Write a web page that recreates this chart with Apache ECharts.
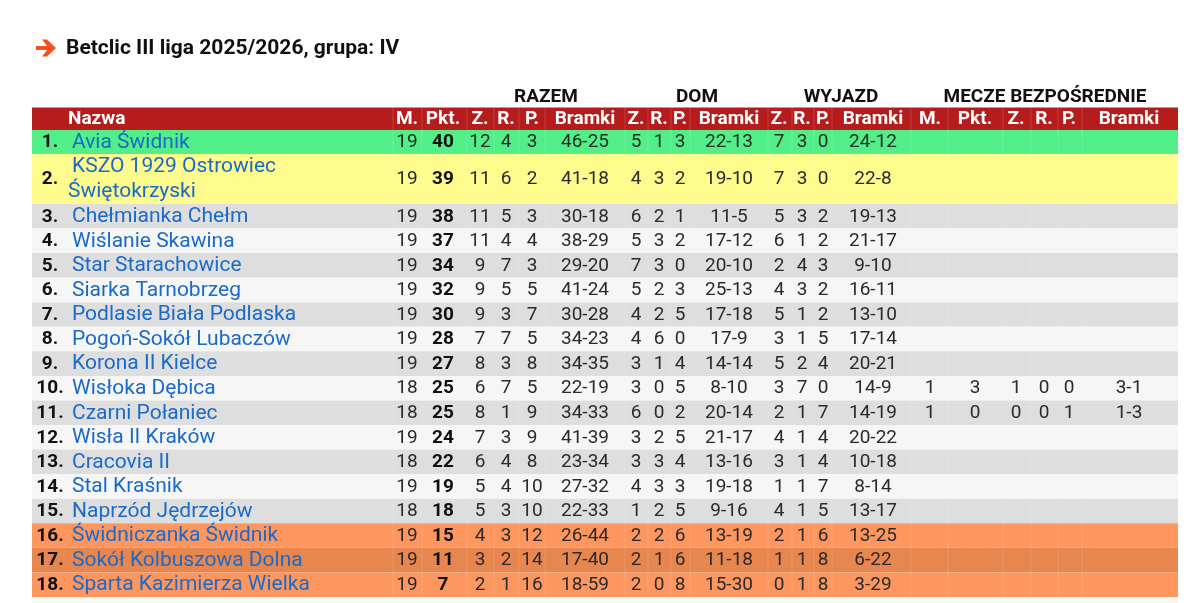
<!DOCTYPE html>
<html>
<head>
<meta charset="utf-8">
<style>
html, body { margin: 0; padding: 0; background: #fff; }
#chart { width: 1200px; height: 603px; }
</style>
<script src="https://cdn.jsdelivr.net/npm/echarts@6/dist/echarts.min.js"></script>
</head>
<body>
<div id="chart"></div>
<script>
const titleText = 'Betclic III liga 2025/2026, grupa: IV';
const groupLabels = ['RAZEM', 'DOM', 'WYJAZD', 'MECZE BEZPOŚREDNIE'];
const headerLabels = ['M.', 'Pkt.', 'Z.', 'R.', 'P.', 'Bramki', 'Z.', 'R.', 'P.', 'Bramki', 'Z.', 'R.', 'P.', 'Bramki', 'M.', 'Pkt.', 'Z.', 'R.', 'P.', 'Bramki'];

const teams = [
    'Avia Świdnik', 'KSZO 1929 Ostrowiec\nŚwiętokrzyski', 'Chełmianka Chełm', 'Wiślanie Skawina',
    'Star Starachowice', 'Siarka Tarnobrzeg', 'Podlasie Biała Podlaska', 'Pogoń-Sokół Lubaczów',
    'Korona II Kielce', 'Wisłoka Dębica', 'Czarni Połaniec', 'Wisła II Kraków',
    'Cracovia II', 'Stal Kraśnik', 'Naprzód Jędrzejów', 'Świdniczanka Świdnik',
    'Sokół Kolbuszowa Dolna', 'Sparta Kazimierza Wielka',
];
const played = [19, 19, 19, 19, 19, 19, 19, 19, 19, 18, 18, 19, 18, 19, 18, 19, 19, 19];
const points = [40, 39, 38, 37, 34, 32, 30, 28, 27, 25, 25, 24, 22, 19, 18, 15, 11, 7];
const overall = [
    [12, 4, 3, '46-25'], [11, 6, 2, '41-18'], [11, 5, 3, '30-18'], [11, 4, 4, '38-29'],
    [9, 7, 3, '29-20'], [9, 5, 5, '41-24'], [9, 3, 7, '30-28'], [7, 7, 5, '34-23'],
    [8, 3, 8, '34-35'], [6, 7, 5, '22-19'], [8, 1, 9, '34-33'], [7, 3, 9, '41-39'],
    [6, 4, 8, '23-34'], [5, 4, 10, '27-32'], [5, 3, 10, '22-33'], [4, 3, 12, '26-44'],
    [3, 2, 14, '17-40'], [2, 1, 16, '18-59'],
];
const home = [
    [5, 1, 3, '22-13'], [4, 3, 2, '19-10'], [6, 2, 1, '11-5'], [5, 3, 2, '17-12'],
    [7, 3, 0, '20-10'], [5, 2, 3, '25-13'], [4, 2, 5, '17-18'], [4, 6, 0, '17-9'],
    [3, 1, 4, '14-14'], [3, 0, 5, '8-10'], [6, 0, 2, '20-14'], [3, 2, 5, '21-17'],
    [3, 3, 4, '13-16'], [4, 3, 3, '19-18'], [1, 2, 5, '9-16'], [2, 2, 6, '13-19'],
    [2, 1, 6, '11-18'], [2, 0, 8, '15-30'],
];
const away = [
    [7, 3, 0, '24-12'], [7, 3, 0, '22-8'], [5, 3, 2, '19-13'], [6, 1, 2, '21-17'],
    [2, 4, 3, '9-10'], [4, 3, 2, '16-11'], [5, 1, 2, '13-10'], [3, 1, 5, '17-14'],
    [5, 2, 4, '20-21'], [3, 7, 0, '14-9'], [2, 1, 7, '14-19'], [4, 1, 4, '20-22'],
    [3, 1, 4, '10-18'], [1, 1, 7, '8-14'], [4, 1, 5, '13-17'], [2, 1, 6, '13-25'],
    [1, 1, 8, '6-22'], [0, 1, 8, '3-29'],
];
// only the two teams level on points have head to head figures
const direct = { 9: [1, 3, 1, 0, 0, '3-1'], 10: [1, 0, 0, 0, 1, '1-3'] };

// layout, in page pixels
const tableLeft = 32;
const tableRight = 1178;
const headerTop = 107.5;
const columnCenters = [407, 443, 480, 506, 532, 585, 636, 659, 680, 729, 779, 802, 823, 873, 930, 975, 1016, 1044, 1069, 1129];
const groupCenters = [546, 697, 841, 1045];
const separators = [393, 422, 467, 494, 519, 545, 625, 648, 671, 690, 768, 792, 814, 832, 911, 948, 1003, 1031, 1058, 1082];
const rowTops = [130, 154];
for (let i = 0; i < 17; i++) {
    rowTops.push(204 + i * 24.56);
}

const rowColors = teams.map((t, i) => {
    if (i === 0) return '#52ee88';
    if (i === 1) return '#fdfc8d';
    if (i === 16) return '#e8864f';
    if (i >= 15) return '#fe9660';
    return i % 2 === 0 ? '#dedede' : '#f6f6f6';
});

const bandData = [[headerTop, rowTops[0], '#b71c1c']];
rowColors.forEach((c, i) => bandData.push([rowTops[i], rowTops[i + 1], c]));
bandData.push([600.5, 603, '#fff4e2']);

const cellData = [];
function addCell(x, y, text, kind) {
    cellData.push([x, y, text, kind]);
}
const headerY = 119.5;
addCell(68, headerY, 'Nazwa', 'headLeft');
headerLabels.forEach((h, c) => addCell(columnCenters[c], headerY, h, 'head'));
groupLabels.forEach((g, c) => addCell(groupCenters[c], 97, g, 'group'));
teams.forEach((team, i) => {
    const y = (rowTops[i] + rowTops[i + 1]) / 2 + 0.5;
    addCell(50, y, (i + 1) + '.', 'rank');
    const lines = team.split('\n');
    if (lines.length === 2) {
        addCell(72, y - 13, lines[0], 'team');
        addCell(68, y + 12, lines[1], 'team');
    } else {
        addCell(72, y, team, 'team');
    }
    const values = [played[i], points[i]].concat(overall[i], home[i], away[i], direct[i] || []);
    values.forEach((v, c) => addCell(columnCenters[c], y, String(v), c === 1 ? 'points' : 'num'));
});

const cellStyles = {
    head: { font: '700 19px Roboto', fill: '#ffffff', align: 'center' },
    headLeft: { font: '700 19px Roboto', fill: '#ffffff', align: 'left' },
    group: { font: '700 19px Roboto', fill: '#111111', align: 'center' },
    rank: { font: '700 19px Roboto', fill: '#111111', align: 'center' },
    team: { font: '400 21px Roboto', fill: '#1a6ac9', align: 'left' },
    points: { font: '700 19px Roboto', fill: '#111111', align: 'center' },
    num: { font: '400 19px Roboto', fill: '#2a2a2a', align: 'center' },
};

const chart = echarts.init(document.getElementById('chart'), null, { renderer: 'canvas' });
chart.setOption({
    animation: false,
    backgroundColor: '#ffffff',
    title: {
        text: titleText,
        left: 61,
        top: 33,
        textStyle: { fontFamily: 'Roboto', fontWeight: 700, fontSize: 21, color: '#111111' },
    },
    grid: { left: 0, right: 0, top: 0, bottom: 0 },
    xAxis: { type: 'value', min: 0, max: 1200, show: false },
    yAxis: { type: 'value', min: 0, max: 603, inverse: true, show: false },
    series: [
        {
            type: 'custom',
            silent: true,
            data: bandData,
            encode: { x: [], y: [0, 1] },
            renderItem: function (params, api) {
                const a = api.coord([tableLeft, api.value(0)]);
                const b = api.coord([tableRight, api.value(1)]);
                return {
                    type: 'rect',
                    shape: { x: a[0], y: a[1], width: b[0] - a[0], height: b[1] - a[1] },
                    style: { fill: bandData[params.dataIndex][2] },
                };
            },
        },
        {
            type: 'custom',
            silent: true,
            data: separators,
            renderItem: function (params, api) {
                const a = api.coord([api.value(0), headerTop]);
                const b = api.coord([api.value(0), rowTops[rowTops.length - 1]]);
                return {
                    type: 'line',
                    shape: { x1: a[0], y1: a[1], x2: b[0], y2: b[1] },
                    style: { stroke: 'rgba(255,255,255,0.14)', lineWidth: 1 },
                };
            },
        },
        {
            type: 'custom',
            silent: true,
            data: cellData.map((d) => [d[0], d[1]]),
            renderItem: function (params, api) {
                const cell = cellData[params.dataIndex];
                const s = cellStyles[cell[3]];
                const p = api.coord([cell[0], cell[1]]);
                return {
                    type: 'text',
                    x: p[0],
                    y: p[1],
                    style: {
                        text: cell[2],
                        font: s.font,
                        fill: s.fill,
                        align: s.align,
                        verticalAlign: 'middle',
                    },
                };
            },
        },
        {
            type: 'scatter',
            silent: true,
            data: [[46, 48]],
            symbol: 'path://M0 6.5 H11 L6 0 H11 L20 8.5 L11 17 H6 L11 10.5 H0 Z',
            symbolSize: [20, 17],
            itemStyle: { color: '#f4511e', opacity: 1 },
        },
    ],
});
</script>
</body>
</html>
